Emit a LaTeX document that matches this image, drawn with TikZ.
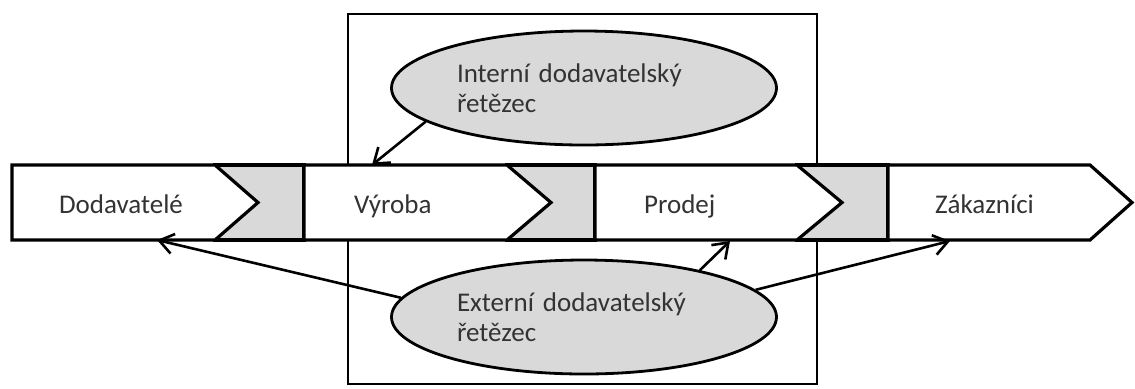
\documentclass[tikz,border=0pt]{standalone}
\usepackage{fontspec}
\setmainfont{Carlito}
\usetikzlibrary{arrows.meta,shapes.geometric}

\begin{document}
\begin{tikzpicture}[x=0.5pt,y=-0.5pt,
>={Straight Barb[length=7pt,width=10pt]},
stage/.style={draw,line width=1.6pt,fill=white,line join=miter},
link/.style={draw,line width=1.6pt,fill=gray!30},
stagetext/.style={anchor=base west,text=black!80,
font=\fontsize{13.5}{15}\selectfont},
bubble/.style={ellipse,draw,line width=1.4pt,fill=gray!30,
minimum width=192.5pt,minimum height=57pt,inner sep=0pt,
text width=127pt,align=left,text=black!80,
font=\fontsize{13.5}{15}\selectfont},
pointer/.style={->,line width=1.3pt}]

\useasboundingbox (0,0) rectangle (1135,388);

\draw[line width=1.4pt] (348,14) rectangle (817,384);

\path[link] (215,165) rectangle (304,240);
\path[link] (507,165) rectangle (595,240);
\path[link] (797,165) rectangle (888,240);

\path[stage] (12,165)--(215,165)--(258,202.5)
--(215,240)--(12,240)--cycle;

\path[stage] (304,165)--(507,165)--(551,202.5)
--(507,240)--(304,240)--cycle;

\path[stage] (595,165)--(797,165)--(842,202.5)
--(797,240)--(595,240)--cycle;

\path[stage] (888,165)--(1090,165)--(1132,202.5)
--(1090,240)--(888,240)--cycle;

\node[stagetext] (dod) at (52,213){Dodavatelé};
\node[stagetext] (vyr) at (347,213){Výroba};
\node[stagetext] (pro) at (637,213){Prodej};
\node[stagetext] (zak) at (928,213){Zákazníci};

\node[bubble] (int) at (584,88){Interní dodavatelský\\řetězec};
\node[bubble] (ext) at (584,317){Externí dodavatelský\\řetězec};

\coordinate (vyrIn) at (372,165);
\coordinate (dodIn) at (157,240);
\coordinate (proIn) at (730,241);
\coordinate (zakIn) at (950,241);

\draw[pointer] (int.192)--(vyrIn);
\draw[pointer] (ext.174)--(dodIn);
\draw[pointer] (ext.22)--(proIn);
\draw[pointer] (ext.9)--(zakIn);

\end{tikzpicture}
\end{document}
